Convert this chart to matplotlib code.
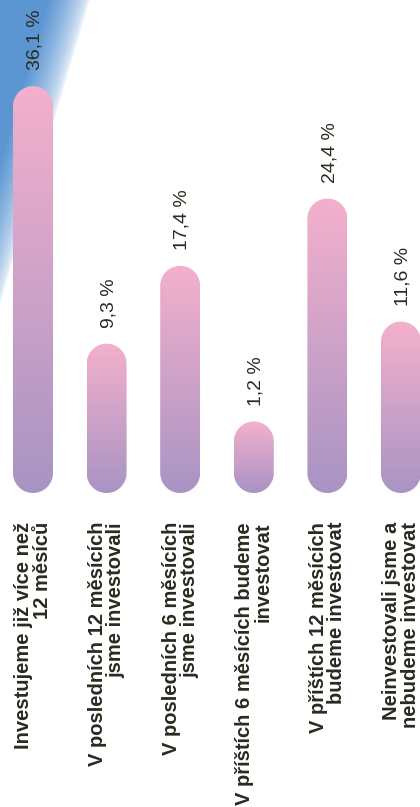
import numpy as np
import matplotlib
matplotlib.use("Agg")
import matplotlib.pyplot as plt
from matplotlib.path import Path
from matplotlib.patches import PathPatch

categories = [
    "Investujeme již více než\n12 měsíců",
    "V posledních 12 měsících\njsme investovali",
    "V posledních 6 měsících\njsme investovali",
    "V příštích 6 měsících budeme\ninvestovat",
    "V příštích 12 měsících\nbudeme investovat",
    "Neinvestovali jsme a\nnebudeme investovat",
]
values = [36.1, 9.3, 17.4, 1.2, 24.4, 11.6]

W, H = 420, 807
TEXT = "#2b2a20"
PINK = np.array([244, 176, 204]) / 255
PURPLE = np.array([168, 148, 196]) / 255
FONT = ["Liberation Sans", "DejaVu Sans"]

fig = plt.figure(figsize=(W / 100, H / 100), dpi=100)

# decorative blue corner gradient
bg = fig.add_axes([0, 0, 1, 1], zorder=0)
bg.axis("off")
yy, xx = np.mgrid[0:H, 0:W] + 0.5
d = (305 * (90 - xx) - 90 * yy) / np.hypot(305, 90)
alpha = np.clip(d / 40, 0, 1) ** 0.6
img = np.zeros((H, W, 4))
img[..., 0] = 0.34
img[..., 1] = 0.58
img[..., 2] = 0.82
img[..., 3] = alpha * 0.97
bg.imshow(img, extent=[0, W, H, 0], aspect="auto", interpolation="bilinear")
bg.set_xlim(0, W)
bg.set_ylim(H, 0)

# main axes
ax = fig.add_axes([0, 0, 1, 1], zorder=1)
ax.patch.set_alpha(0)
ax.axis("off")

px_x = 73.6          # pixels per category step
px_y = 9.61          # pixels per percent
first_x = 33         # pixel x of first bar center
base_px = H - 493    # pixel height of bar base above figure bottom
base = -6.24         # bar base in data units
ylo = base - base_px / px_y

bar_w = 40 / px_x
rx = 20 / px_x
ry = 20 / px_y

grad = np.linspace(0, 1, 256)[:, None, None]
grad_img = PINK[None, None, :] * (1 - grad) + PURPLE[None, None, :] * grad

def pill(xc, y0, y1):
    t = np.linspace(0, np.pi, 40)
    top = np.column_stack([xc + rx * np.cos(t), y1 - ry + ry * np.sin(t)])
    bot = np.column_stack([xc - rx * np.cos(t), y0 + ry - ry * np.sin(t)])
    verts = np.vstack([top, bot, top[:1]])
    codes = [Path.MOVETO] + [Path.LINETO] * (len(verts) - 2) + [Path.CLOSEPOLY]
    return Path(verts, codes)

positions = np.arange(len(categories))
for xc, v, cat in zip(positions, values, categories):
    patch = PathPatch(pill(xc, base, v), facecolor="none", edgecolor="none")
    ax.add_patch(patch)
    im = ax.imshow(grad_img, extent=[xc - bar_w / 2, xc + bar_w / 2, base, v],
                   origin="upper", aspect="auto", interpolation="bilinear", zorder=2)
    im.set_clip_path(patch)
    label = f"{v:.1f}".replace(".", ",") + " %"
    ax.text(xc + 0.03, v + 16 / px_y, label, rotation=90, ha="center", va="bottom",
            fontsize=14, color=TEXT, family=FONT, zorder=3)
    ax.text(xc, ylo + (H - 522) / px_y, cat, rotation=90, ha="center", va="top",
            multialignment="right", fontsize=14.5, fontweight="bold", color=TEXT,
            family=FONT, linespacing=0.95, zorder=3)

ax.set_xlim(-first_x / px_x, (W - first_x) / px_x)
ax.set_ylim(ylo, ylo + H / px_y)

fig.savefig("out.png", dpi=100)
